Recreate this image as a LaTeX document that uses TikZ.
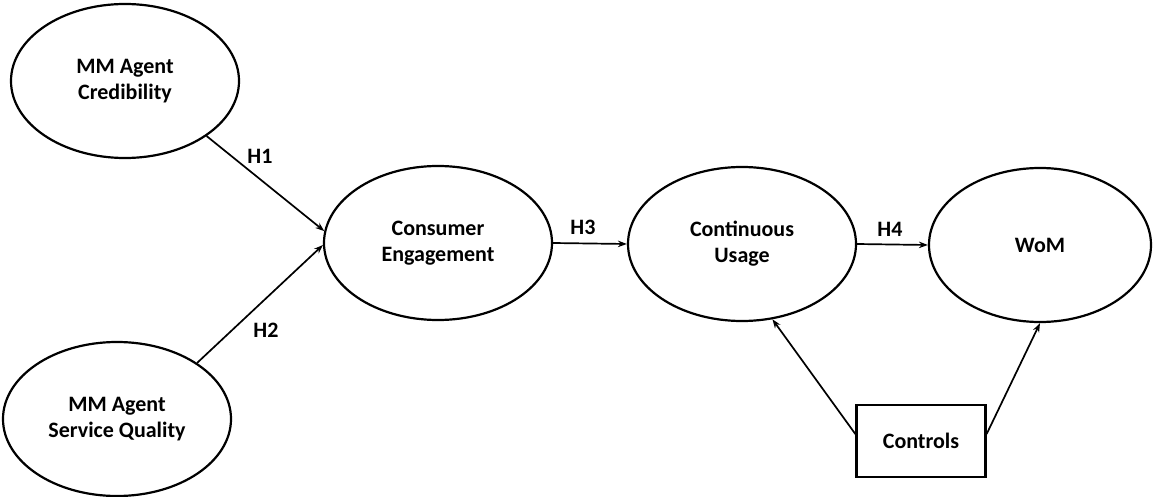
\documentclass[tikz,border=0pt]{standalone}
\usepackage{fontspec}
\setmainfont{Carlito}
\usetikzlibrary{shapes.geometric,arrows.meta}
\begin{document}
\begin{tikzpicture}[x=1pt,y=-1pt,
  every node/.style={font=\fontsize{22}{26}\selectfont\bfseries},
  construct/.style={ellipse,draw,line width=2.2pt,inner sep=0pt,align=center,minimum width=228pt,minimum height=154pt},
  ctrlbox/.style={rectangle,draw,line width=2.2pt,inner sep=0pt,minimum width=129pt,minimum height=72pt},
  path/.style={line width=1.7pt,-{Stealth[length=9pt,width=6.5pt]}},
  hyp/.style={inner sep=0pt}]
\useasboundingbox (0,0) rectangle (1153,497);
\node[construct] (cred) at (125,81) {MM Agent\\Credibility};
\node[construct] (sq) at (117,419) {MM Agent\\Service Quality};
\node[construct] (ce) at (438,243) {Consumer\\Engagement};
\node[construct] (cu) at (742,244) {Continuous\\Usage};
\node[construct,minimum width=222pt] (wom) at (1040,245) {WoM};
\node[ctrlbox] (ctrl) at (921,441) {Controls};
\draw[path] (cred.-34) -- (ce.174);
\draw[path] (sq.35) -- (ce.181);
\draw[path] (ce.east) -- (cu.west);
\draw[path] (cu.east) -- (wom.west);
\draw[path] (ctrl.174) -- (cu.-68);
\draw[path] (ctrl.6) -- (wom.south);
\node[hyp] (h1) at (260,156) {H1};
\node[hyp] (h2) at (266,330) {H2};
\node[hyp] (h3) at (583,227) {H3};
\node[hyp] (h4) at (890,229) {H4};
\end{tikzpicture}
\end{document}
